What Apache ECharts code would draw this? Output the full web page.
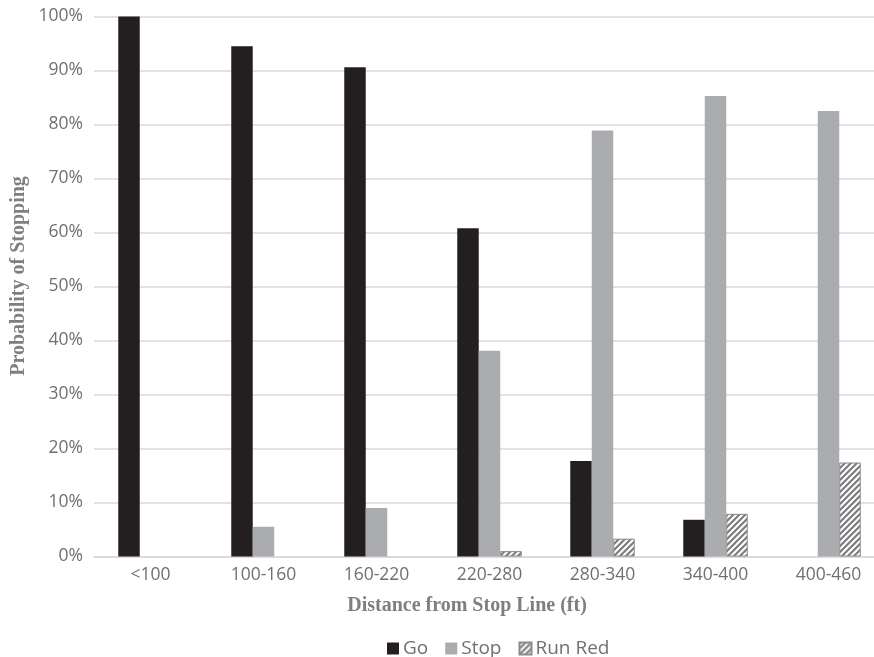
<!DOCTYPE html>
<html>
<head>
<meta charset="utf-8">
<script src="https://cdn.jsdelivr.net/npm/echarts@6/dist/echarts.min.js"></script>
<style>html,body{margin:0;padding:0;background:#fff}#c{width:874px;height:657px}</style>
</head>
<body>
<div id="c"></div>
<script>
const categories = ['<100', '100-160', '160-220', '220-280', '280-340', '340-400', '400-460'];
const goValues = [100, 94.5, 90.6, 60.8, 17.7, 6.8, 0];
const stopValues = [0, 5.5, 9.0, 38.1, 78.9, 85.3, 82.5];
const runRedValues = [0, 0, 0, 1.0, 3.3, 7.9, 17.4];
const yTicks = { min: 0, max: 100, interval: 10 };

function hatch() {
  const s = 6;
  const c = document.createElement('canvas');
  c.width = s; c.height = s;
  const g = c.getContext('2d');
  g.fillStyle = '#ffffff';
  g.fillRect(0, 0, s, s);
  g.strokeStyle = '#7d7d7d';
  g.lineWidth = 2.2;
  g.beginPath();
  for (let k = -1; k <= 1; k++) {
    g.moveTo(k * s - 1, s + 1);
    g.lineTo(k * s + s + 1, -1);
  }
  g.stroke();
  return c;
}
const nz = a => a.map(v => v === 0 ? null : v);
const txt = '#707070';
const chart = echarts.init(document.getElementById('c'), null, { renderer: 'canvas' });
chart.setOption({
  animation: false,
  backgroundColor: '#fff',
  grid: { left: 94, top: 16.5, width: 791, height: 540, outerBoundsMode: 'none', containLabel: false },
  xAxis: {
    type: 'category', data: categories,
    axisLine: { lineStyle: { color: '#d9d9d9', width: 1.5 } },
    axisTick: { show: false },
    axisLabel: { color: txt, fontFamily: 'Open Sans', fontSize: 17.5, margin: 10 }
  },
  yAxis: {
    type: 'value', min: yTicks.min, max: yTicks.max, interval: yTicks.interval,
    axisLine: { show: false }, axisTick: { show: false },
    splitLine: { lineStyle: { color: '#d9d9d9', width: 1.5 } },
    axisLabel: { color: txt, fontFamily: 'Open Sans', fontSize: 17.5, margin: 11, formatter: '{value}%' }
  },
  legend: {
    top: 634, left: 382, itemWidth: 12, itemHeight: 12, itemGap: 17, icon: 'rect',
    textStyle: { color: txt, fontFamily: 'Open Sans', fontSize: 19, padding: [0, 0, 0, -1] },
    data: ['Go', 'Stop', 'Run Red']
  },
  graphic: [
    { type: 'text', x: 467, y: 606, style: { text: 'Distance from Stop Line (ft)', fill: '#7f7f7f', font: 'bold 20px "Liberation Serif"', align: 'center', verticalAlign: 'middle' } },
    { type: 'text', x: 19, y: 276, rotation: Math.PI / 2, style: { text: 'Probability of Stopping', fill: '#7f7f7f', font: 'bold 20px "Liberation Serif"', align: 'center', verticalAlign: 'middle' } }
  ],
  series: [
    { name: 'Go', type: 'bar', data: nz(goValues), barWidth: 21.5, barGap: '0%', itemStyle: { color: '#231f20' } },
    { name: 'Stop', type: 'bar', data: nz(stopValues), barWidth: 21.5, barGap: '0%', itemStyle: { color: '#abacaf' } },
    { name: 'Run Red', type: 'bar', data: nz(runRedValues), barWidth: 21.5, barGap: '0%', itemStyle: { color: { image: hatch(), repeat: 'repeat' }, borderColor: '#8a8a8a', borderWidth: 1 } }
  ]
});
</script>
</body>
</html>
